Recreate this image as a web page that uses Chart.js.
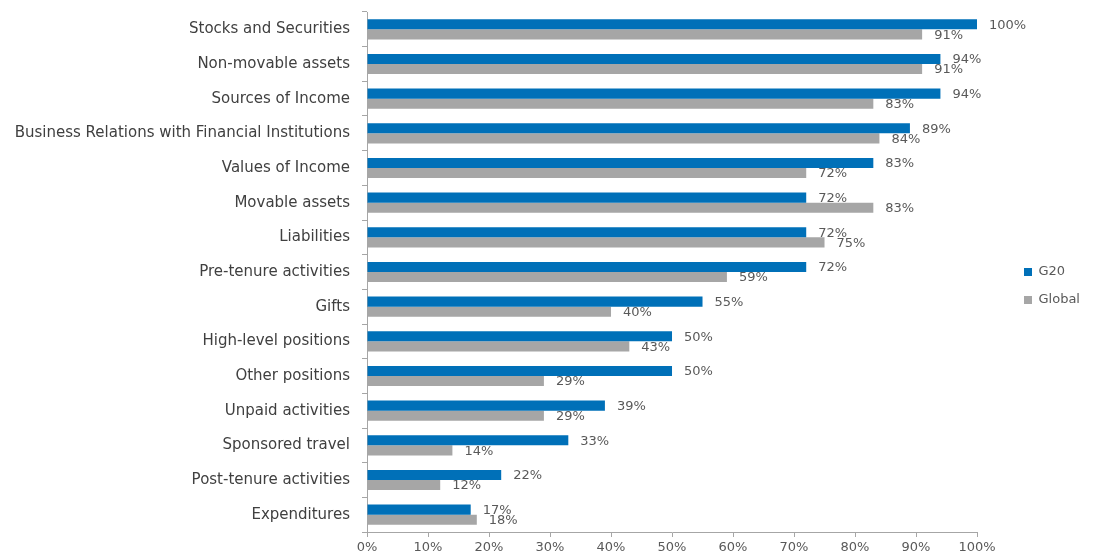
<!DOCTYPE html>
<html>
<head>
<meta charset="utf-8">
<script src="https://cdn.jsdelivr.net/npm/chart.js@4.4.0/dist/chart.umd.min.js"></script>
<style>
html,body{margin:0;padding:0;background:#fff;}
#wrap{width:1113px;height:560px;position:relative;}
</style>
</head>
<body>
<div id="wrap"><canvas id="c" width="1113" height="560"></canvas></div>
<script>
const categories = [
  "Stocks and Securities",
  "Non-movable assets",
  "Sources of Income",
  "Business Relations with Financial Institutions",
  "Values of Income",
  "Movable assets",
  "Liabilities",
  "Pre-tenure activities",
  "Gifts",
  "High-level positions",
  "Other positions",
  "Unpaid activities",
  "Sponsored travel",
  "Post-tenure activities",
  "Expenditures"
];
const g20Values = [100, 94, 94, 89, 83, 72, 72, 72, 55, 50, 50, 39, 33, 22, 17];
const globalValues = [91, 91, 83, 84, 72, 83, 75, 59, 40, 43, 29, 29, 14, 12, 18];
const xTickValues = [0, 10, 20, 30, 40, 50, 60, 70, 80, 90, 100];

const FONT = "'DejaVu Sans', 'Noto Sans', sans-serif";

const valueLabels = {
  id: 'valueLabels',
  afterDatasetsDraw(chart) {
    const ctx = chart.ctx;
    ctx.save();
    ctx.font = '13px ' + FONT;
    ctx.fillStyle = '#595959';
    ctx.textAlign = 'left';
    ctx.textBaseline = 'middle';
    chart.data.datasets.forEach((ds, di) => {
      const meta = chart.getDatasetMeta(di);
      meta.data.forEach((bar, i) => {
        ctx.fillText(ds.data[i] + '%', bar.x + 12, bar.y + 1);
      });
    });
    ctx.restore();
  }
};

const legendMover = {
  id: 'legendMover',
  afterLayout(chart) {
    const lg = chart.legend;
    const w = lg.right - lg.left;
    lg.left = 1009;
    lg.right = lg.left + w;
  }
};

new Chart(document.getElementById('c'), {
  type: 'bar',
  data: {
    labels: categories,
    datasets: [
      { label: 'G20', data: g20Values, backgroundColor: '#0070b8', categoryPercentage: 0.58, barPercentage: 1.0 },
      { label: 'Global', data: globalValues, backgroundColor: '#a6a6a6', categoryPercentage: 0.58, barPercentage: 1.0 }
    ]
  },
  options: {
    indexAxis: 'y',
    responsive: false,
    animation: false,
    layout: { padding: { top: 12, right: 55, left: 0, bottom: 0 } },
    plugins: {
      legend: {
        position: 'right',
        labels: {
          boxWidth: 8, boxHeight: 8, padding: 15,
          color: '#595959',
          font: { family: FONT, size: 13 }
        }
      },
      tooltip: { enabled: false }
    },
    scales: {
      x: {
        min: 0, max: 100,
        afterBuildTicks(scale) { scale.ticks = xTickValues.map(v => ({ value: v })); },
        afterFit(scale) { scale.height = 28; },
        border: { color: '#a6a6a6', width: 1 },
        grid: { drawOnChartArea: false, drawTicks: true, tickLength: 5, color: '#a6a6a6' },
        ticks: {
          color: '#595959', padding: 3,
          font: { family: FONT, size: 13 },
          callback: v => v + '%'
        }
      },
      y: {
        afterFit(scale) { scale.width = 367; scale.paddingTop = 0; scale.paddingBottom = 0; },
        border: { color: '#a6a6a6', width: 1 },
        grid: { drawOnChartArea: false, offset: true, drawTicks: true, tickLength: 5, color: '#a6a6a6' },
        ticks: {
          color: '#404040', padding: 12,
          font: { family: FONT, size: 15 }
        }
      }
    }
  },
  plugins: [valueLabels, legendMover]
});
</script>
</body>
</html>
